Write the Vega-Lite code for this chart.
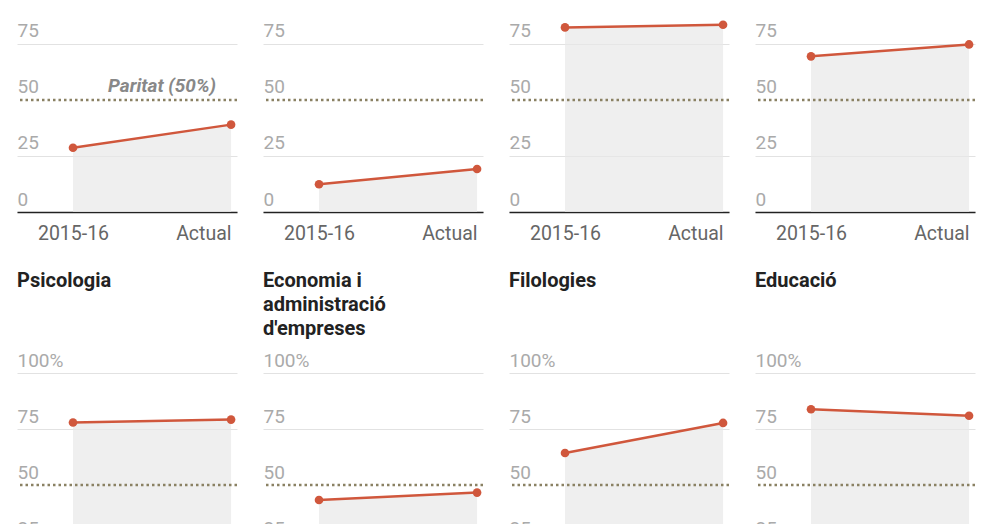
{
  "$schema": "https://vega.github.io/schema/vega-lite/v6.json",
  "padding": {"left": 15, "top": 0, "right": 0, "bottom": 0},
  "background": "white",
  "data": {"values": [
    {"estudis": "A1", "periode": "2015-16", "dones": 28.7},
    {"estudis": "A1", "periode": "Actual", "dones": 39.0},
    {"estudis": "A2", "periode": "2015-16", "dones": 12.4},
    {"estudis": "A2", "periode": "Actual", "dones": 19.2},
    {"estudis": "A3", "periode": "2015-16", "dones": 82.4},
    {"estudis": "A3", "periode": "Actual", "dones": 83.6},
    {"estudis": "A4", "periode": "2015-16", "dones": 69.5},
    {"estudis": "A4", "periode": "Actual", "dones": 74.8},
    {"estudis": "Psicologia", "periode": "2015-16", "dones": 77.9},
    {"estudis": "Psicologia", "periode": "Actual", "dones": 79.2},
    {"estudis": "Economia i administració d'empreses", "periode": "2015-16", "dones": 43.3},
    {"estudis": "Economia i administració d'empreses", "periode": "Actual", "dones": 46.6},
    {"estudis": "Filologies", "periode": "2015-16", "dones": 64.3},
    {"estudis": "Filologies", "periode": "Actual", "dones": 77.7},
    {"estudis": "Educació", "periode": "2015-16", "dones": 83.8},
    {"estudis": "Educació", "periode": "Actual", "dones": 80.9}
  ]},
  "columns": 4,
  "bounds": "flush",
  "spacing": {"row": 161, "column": 26},
  "concat": [
    {
      "width": 220, "height": 212,
      "transform": [{"filter": "datum.estudis == 'A1'"}],
      "layer": [
        {"mark": {"type": "area", "color": "#e8e8e8", "opacity": 0.7},
         "encoding": {
           "x": {"field": "periode", "type": "ordinal", "title": null, "scale": {"type": "point", "domain": ["2015-16", "Actual"], "padding": 0.196, "align": 0.904}, "axis": {"labelAlign": {"condition": {"test": "datum.value == 'Actual'", "value": "right"}, "value": "center"}}},
           "y": {"field": "dones", "type": "quantitative", "title": null, "scale": {"domain": [0, 94.64], "nice": false}, "axis": {"values": [0, 25, 50, 75], "gridOpacity": {"condition": {"test": "datum.value == 50", "value": 0}, "value": 1}}}
         }},
        {"mark": {"type": "rule", "color": "#8a8163", "strokeWidth": 2.5, "strokeDash": [2.5, 3]},
         "transform": [{"filter": "datum.periode == 'Actual'"}],
         "encoding": {"y": {"datum": 50, "type": "quantitative"}}},
        {"mark": {"type": "line", "color": "#d0573c", "strokeWidth": 2.5},
         "encoding": {"x": {"field": "periode", "type": "ordinal"}, "y": {"field": "dones", "type": "quantitative"}}},
        {"mark": {"type": "point", "filled": true, "opacity": 1, "color": "#d0573c", "size": 75},
         "encoding": {"x": {"field": "periode", "type": "ordinal"}, "y": {"field": "dones", "type": "quantitative"}}},
        {"mark": {"type": "text", "text": "Paritat (50%)", "align": "right", "baseline": "alphabetic", "dx": -15, "dy": -8, "fontSize": 19, "fontStyle": "italic", "fontWeight": "bold", "color": "#888888"},
         "transform": [{"filter": "datum.periode == 'Actual'"}],
         "encoding": {"x": {"field": "periode", "type": "ordinal"}, "y": {"datum": 50, "type": "quantitative"}}}
      ]
    },
    {
      "width": 220, "height": 212,
      "transform": [{"filter": "datum.estudis == 'A2'"}],
      "layer": [
        {"mark": {"type": "area", "color": "#e8e8e8", "opacity": 0.7},
         "encoding": {
           "x": {"field": "periode", "type": "ordinal", "title": null, "scale": {"type": "point", "domain": ["2015-16", "Actual"], "padding": 0.196, "align": 0.904}, "axis": {"labelAlign": {"condition": {"test": "datum.value == 'Actual'", "value": "right"}, "value": "center"}}},
           "y": {"field": "dones", "type": "quantitative", "title": null, "scale": {"domain": [0, 94.64], "nice": false}, "axis": {"values": [0, 25, 50, 75], "gridOpacity": {"condition": {"test": "datum.value == 50", "value": 0}, "value": 1}}}
         }},
        {"mark": {"type": "rule", "color": "#8a8163", "strokeWidth": 2.5, "strokeDash": [2.5, 3]},
         "transform": [{"filter": "datum.periode == 'Actual'"}],
         "encoding": {"y": {"datum": 50, "type": "quantitative"}}},
        {"mark": {"type": "line", "color": "#d0573c", "strokeWidth": 2.5},
         "encoding": {"x": {"field": "periode", "type": "ordinal"}, "y": {"field": "dones", "type": "quantitative"}}},
        {"mark": {"type": "point", "filled": true, "opacity": 1, "color": "#d0573c", "size": 75},
         "encoding": {"x": {"field": "periode", "type": "ordinal"}, "y": {"field": "dones", "type": "quantitative"}}}
      ]
    },
    {
      "width": 220, "height": 212,
      "transform": [{"filter": "datum.estudis == 'A3'"}],
      "layer": [
        {"mark": {"type": "area", "color": "#e8e8e8", "opacity": 0.7},
         "encoding": {
           "x": {"field": "periode", "type": "ordinal", "title": null, "scale": {"type": "point", "domain": ["2015-16", "Actual"], "padding": 0.196, "align": 0.904}, "axis": {"labelAlign": {"condition": {"test": "datum.value == 'Actual'", "value": "right"}, "value": "center"}}},
           "y": {"field": "dones", "type": "quantitative", "title": null, "scale": {"domain": [0, 94.64], "nice": false}, "axis": {"values": [0, 25, 50, 75], "gridOpacity": {"condition": {"test": "datum.value == 50", "value": 0}, "value": 1}}}
         }},
        {"mark": {"type": "rule", "color": "#8a8163", "strokeWidth": 2.5, "strokeDash": [2.5, 3]},
         "transform": [{"filter": "datum.periode == 'Actual'"}],
         "encoding": {"y": {"datum": 50, "type": "quantitative"}}},
        {"mark": {"type": "line", "color": "#d0573c", "strokeWidth": 2.5},
         "encoding": {"x": {"field": "periode", "type": "ordinal"}, "y": {"field": "dones", "type": "quantitative"}}},
        {"mark": {"type": "point", "filled": true, "opacity": 1, "color": "#d0573c", "size": 75},
         "encoding": {"x": {"field": "periode", "type": "ordinal"}, "y": {"field": "dones", "type": "quantitative"}}}
      ]
    },
    {
      "width": 220, "height": 212,
      "transform": [{"filter": "datum.estudis == 'A4'"}],
      "layer": [
        {"mark": {"type": "area", "color": "#e8e8e8", "opacity": 0.7},
         "encoding": {
           "x": {"field": "periode", "type": "ordinal", "title": null, "scale": {"type": "point", "domain": ["2015-16", "Actual"], "padding": 0.196, "align": 0.904}, "axis": {"labelAlign": {"condition": {"test": "datum.value == 'Actual'", "value": "right"}, "value": "center"}}},
           "y": {"field": "dones", "type": "quantitative", "title": null, "scale": {"domain": [0, 94.64], "nice": false}, "axis": {"values": [0, 25, 50, 75], "gridOpacity": {"condition": {"test": "datum.value == 50", "value": 0}, "value": 1}}}
         }},
        {"mark": {"type": "rule", "color": "#8a8163", "strokeWidth": 2.5, "strokeDash": [2.5, 3]},
         "transform": [{"filter": "datum.periode == 'Actual'"}],
         "encoding": {"y": {"datum": 50, "type": "quantitative"}}},
        {"mark": {"type": "line", "color": "#d0573c", "strokeWidth": 2.5},
         "encoding": {"x": {"field": "periode", "type": "ordinal"}, "y": {"field": "dones", "type": "quantitative"}}},
        {"mark": {"type": "point", "filled": true, "opacity": 1, "color": "#d0573c", "size": 75},
         "encoding": {"x": {"field": "periode", "type": "ordinal"}, "y": {"field": "dones", "type": "quantitative"}}}
      ]
    },
    {
      "width": 220, "height": 224,
      "title": {"text": ["Psicologia", " ", " "]},
      "transform": [{"filter": "datum.estudis == 'Psicologia'"}],
      "layer": [
        {"mark": {"type": "area", "color": "#e8e8e8", "opacity": 0.7},
         "encoding": {
           "x": {"field": "periode", "type": "ordinal", "title": null, "scale": {"type": "point", "domain": ["2015-16", "Actual"], "padding": 0.196, "align": 0.904}, "axis": {"labelAlign": {"condition": {"test": "datum.value == 'Actual'", "value": "right"}, "value": "center"}}},
           "y": {"field": "dones", "type": "quantitative", "title": null, "scale": {"domain": [0, 100], "nice": false}, "axis": {"values": [0, 25, 50, 75, 100], "labelExpr": "datum.value == 100 ? '100%' : datum.label", "gridOpacity": {"condition": {"test": "datum.value == 50", "value": 0}, "value": 1}}}
         }},
        {"mark": {"type": "rule", "color": "#8a8163", "strokeWidth": 2.5, "strokeDash": [2.5, 3]},
         "transform": [{"filter": "datum.periode == 'Actual'"}],
         "encoding": {"y": {"datum": 50, "type": "quantitative"}}},
        {"mark": {"type": "line", "color": "#d0573c", "strokeWidth": 2.5},
         "encoding": {"x": {"field": "periode", "type": "ordinal"}, "y": {"field": "dones", "type": "quantitative"}}},
        {"mark": {"type": "point", "filled": true, "opacity": 1, "color": "#d0573c", "size": 75},
         "encoding": {"x": {"field": "periode", "type": "ordinal"}, "y": {"field": "dones", "type": "quantitative"}}}
      ]
    },
    {
      "width": 220, "height": 224,
      "title": {"text": ["Economia i", "administració", "d'empreses"]},
      "transform": [{"filter": "datum.estudis == \"Economia i administració d'empreses\""}],
      "layer": [
        {"mark": {"type": "area", "color": "#e8e8e8", "opacity": 0.7},
         "encoding": {
           "x": {"field": "periode", "type": "ordinal", "title": null, "scale": {"type": "point", "domain": ["2015-16", "Actual"], "padding": 0.196, "align": 0.904}, "axis": {"labelAlign": {"condition": {"test": "datum.value == 'Actual'", "value": "right"}, "value": "center"}}},
           "y": {"field": "dones", "type": "quantitative", "title": null, "scale": {"domain": [0, 100], "nice": false}, "axis": {"values": [0, 25, 50, 75, 100], "labelExpr": "datum.value == 100 ? '100%' : datum.label", "gridOpacity": {"condition": {"test": "datum.value == 50", "value": 0}, "value": 1}}}
         }},
        {"mark": {"type": "rule", "color": "#8a8163", "strokeWidth": 2.5, "strokeDash": [2.5, 3]},
         "transform": [{"filter": "datum.periode == 'Actual'"}],
         "encoding": {"y": {"datum": 50, "type": "quantitative"}}},
        {"mark": {"type": "line", "color": "#d0573c", "strokeWidth": 2.5},
         "encoding": {"x": {"field": "periode", "type": "ordinal"}, "y": {"field": "dones", "type": "quantitative"}}},
        {"mark": {"type": "point", "filled": true, "opacity": 1, "color": "#d0573c", "size": 75},
         "encoding": {"x": {"field": "periode", "type": "ordinal"}, "y": {"field": "dones", "type": "quantitative"}}}
      ]
    },
    {
      "width": 220, "height": 224,
      "title": {"text": ["Filologies", " ", " "]},
      "transform": [{"filter": "datum.estudis == 'Filologies'"}],
      "layer": [
        {"mark": {"type": "area", "color": "#e8e8e8", "opacity": 0.7},
         "encoding": {
           "x": {"field": "periode", "type": "ordinal", "title": null, "scale": {"type": "point", "domain": ["2015-16", "Actual"], "padding": 0.196, "align": 0.904}, "axis": {"labelAlign": {"condition": {"test": "datum.value == 'Actual'", "value": "right"}, "value": "center"}}},
           "y": {"field": "dones", "type": "quantitative", "title": null, "scale": {"domain": [0, 100], "nice": false}, "axis": {"values": [0, 25, 50, 75, 100], "labelExpr": "datum.value == 100 ? '100%' : datum.label", "gridOpacity": {"condition": {"test": "datum.value == 50", "value": 0}, "value": 1}}}
         }},
        {"mark": {"type": "rule", "color": "#8a8163", "strokeWidth": 2.5, "strokeDash": [2.5, 3]},
         "transform": [{"filter": "datum.periode == 'Actual'"}],
         "encoding": {"y": {"datum": 50, "type": "quantitative"}}},
        {"mark": {"type": "line", "color": "#d0573c", "strokeWidth": 2.5},
         "encoding": {"x": {"field": "periode", "type": "ordinal"}, "y": {"field": "dones", "type": "quantitative"}}},
        {"mark": {"type": "point", "filled": true, "opacity": 1, "color": "#d0573c", "size": 75},
         "encoding": {"x": {"field": "periode", "type": "ordinal"}, "y": {"field": "dones", "type": "quantitative"}}}
      ]
    },
    {
      "width": 220, "height": 224,
      "title": {"text": ["Educació", " ", " "]},
      "transform": [{"filter": "datum.estudis == 'Educació'"}],
      "layer": [
        {"mark": {"type": "area", "color": "#e8e8e8", "opacity": 0.7},
         "encoding": {
           "x": {"field": "periode", "type": "ordinal", "title": null, "scale": {"type": "point", "domain": ["2015-16", "Actual"], "padding": 0.196, "align": 0.904}, "axis": {"labelAlign": {"condition": {"test": "datum.value == 'Actual'", "value": "right"}, "value": "center"}}},
           "y": {"field": "dones", "type": "quantitative", "title": null, "scale": {"domain": [0, 100], "nice": false}, "axis": {"values": [0, 25, 50, 75, 100], "labelExpr": "datum.value == 100 ? '100%' : datum.label", "gridOpacity": {"condition": {"test": "datum.value == 50", "value": 0}, "value": 1}}}
         }},
        {"mark": {"type": "rule", "color": "#8a8163", "strokeWidth": 2.5, "strokeDash": [2.5, 3]},
         "transform": [{"filter": "datum.periode == 'Actual'"}],
         "encoding": {"y": {"datum": 50, "type": "quantitative"}}},
        {"mark": {"type": "line", "color": "#d0573c", "strokeWidth": 2.5},
         "encoding": {"x": {"field": "periode", "type": "ordinal"}, "y": {"field": "dones", "type": "quantitative"}}},
        {"mark": {"type": "point", "filled": true, "opacity": 1, "color": "#d0573c", "size": 75},
         "encoding": {"x": {"field": "periode", "type": "ordinal"}, "y": {"field": "dones", "type": "quantitative"}}}
      ]
    }
  ],
  "config": {
    "font": "Roboto",
    "view": {"stroke": null},
    "axisY": {"domain": false, "ticks": false, "tickSize": 0, "labelAlign": "left", "labelPadding": 0, "labelBaseline": "alphabetic", "labelOffset": -7, "labelColor": "#aaaaaa", "labelFontSize": 19, "labelFont": "Roboto", "gridColor": "#e2e2e2", "gridWidth": 1, "labelOverlap": false, "labelFlush": false},
    "axisX": {"domainColor": "#222222", "domainWidth": 1.5, "ticks": false, "tickSize": 0, "labelPadding": 12, "labelColor": "#666666", "labelFontSize": 19.5, "labelFont": "Roboto", "labelAngle": 0, "grid": false},
    "title": {"anchor": "start", "frame": "group", "fontSize": 20, "fontWeight": "bold", "color": "#222222", "font": "Roboto", "lineHeight": 24, "offset": 12}
  }
}
